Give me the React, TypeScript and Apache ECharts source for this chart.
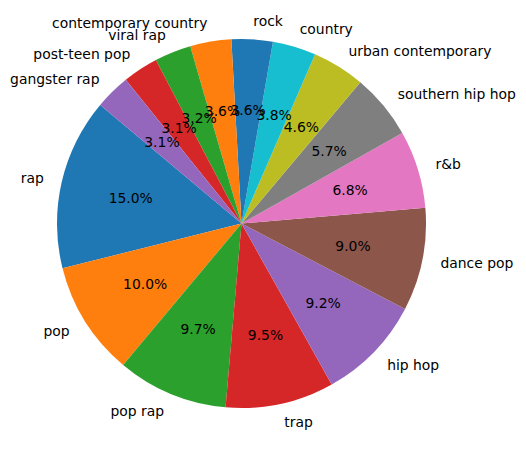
import React, { useEffect, useRef } from "react";
import * as echarts from "echarts";

const genres = [
  "rap",
  "pop",
  "pop rap",
  "trap",
  "hip hop",
  "dance pop",
  "r&b",
  "southern hip hop",
  "urban contemporary",
  "country",
  "rock",
  "contemporary country",
  "viral rap",
  "post-teen pop",
  "gangster rap",
];

const shares = [15.0, 10.0, 9.7, 9.5, 9.2, 9.0, 6.8, 5.7, 4.6, 3.8, 3.6, 3.6, 3.2, 3.1, 3.1];

const palette = [
  "#1f77b4",
  "#ff7f0e",
  "#2ca02c",
  "#d62728",
  "#9467bd",
  "#8c564b",
  "#e377c2",
  "#7f7f7f",
  "#bcbd22",
  "#17becf",
];

export default function App() {
  const ref = useRef<HTMLDivElement>(null);

  useEffect(() => {
    if (!ref.current) return;
    const chart = echarts.init(ref.current, null, { renderer: "svg" });
    const R = 184.5;
    const center = [241.5, 223.5];
    const font = "DejaVu Sans";
    const fs = 13.9;
    const data = genres.map((g, i) => ({
      name: g,
      value: shares[i],
      itemStyle: { color: palette[i % palette.length], borderWidth: 0 },
    }));
    chart.setOption({
      animation: false,
      backgroundColor: "#ffffff",
      series: [
        {
          type: "pie",
          center,
          radius: [0, R],
          startAngle: 140,
          clockwise: false,
          avoidLabelOverlap: false,
          silent: true,
          minShowLabelAngle: 0,
          data,
          itemStyle: { borderWidth: 0 },
          label: {
            show: true,
            position: "outside",
            formatter: "{b}",
            color: "#000",
            fontFamily: font,
            fontSize: fs,
            distanceToLabelLine: 0,
          },
          labelLine: { show: false, length: R * 0.1, length2: 0 },
          labelLayout: { hideOverlap: false },
          emphasis: { disabled: true },
        },
        {
          type: "pie",
          center,
          radius: [0, R * 1.2],
          startAngle: 140,
          clockwise: false,
          avoidLabelOverlap: false,
          silent: true,
          minShowLabelAngle: 0,
          z: 3,
          data: genres.map((g, i) => ({
            name: g,
            value: shares[i],
            itemStyle: { color: "rgba(0,0,0,0)", borderWidth: 0 },
          })),
          itemStyle: { borderWidth: 0 },
          label: {
            show: true,
            position: "inside",
            formatter: (p: any) => Number(p.value).toFixed(1) + "%",
            color: "#000",
            fontFamily: font,
            fontSize: fs,
          },
          labelLine: { show: false },
          labelLayout: { hideOverlap: false },
          emphasis: { disabled: true },
        },
      ],
    });
    return () => chart.dispose();
  }, []);

  return (
    <div
      ref={ref}
      style={{ position: "absolute", left: 0, top: 0, width: 526, height: 451 }}
    />
  );
}
